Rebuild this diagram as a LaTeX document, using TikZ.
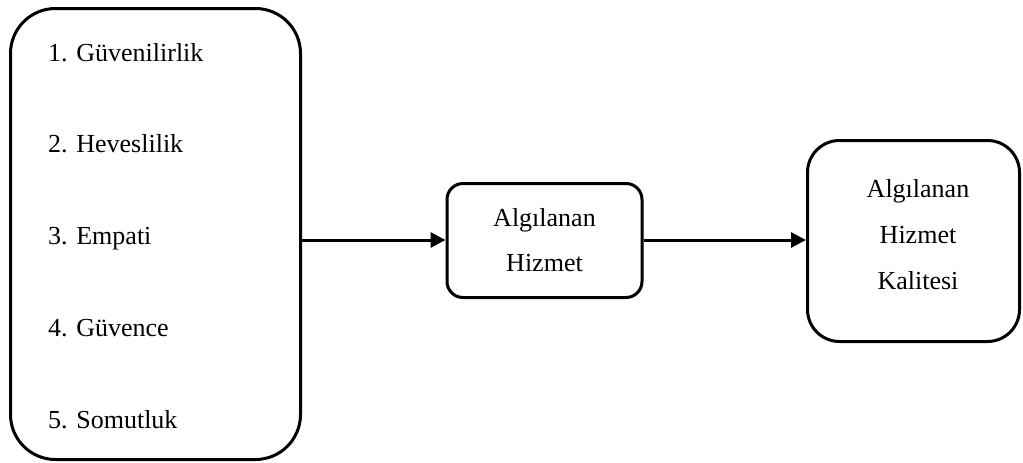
\documentclass[tikz,border=0pt]{standalone}
\usepackage{fontspec}
\setmainfont{Liberation Serif}
\usetikzlibrary{arrows.meta}
\begin{document}
\begin{tikzpicture}[x=1pt,y=-1pt,
  box/.style={draw,line width=3pt,rectangle,inner sep=0pt},
  item/.style={anchor=base west,inner sep=0pt,font=\fontsize{26}{30}\selectfont},
  lbl/.style={anchor=base,inner sep=0pt,font=\fontsize{26}{30}\selectfont},
  flow/.style={line width=3pt,-{Triangle[length=15pt,width=15pt]}}]
\useasboundingbox (0,0) rectangle (1023,463);
% factor list
\node[box,rounded corners=45pt,minimum width=290pt,minimum height=451pt] (dims) at (155.5,234) {};
\node[item] (d1) at (48,61) {1. Güvenilirlik};
\node[item] (d2) at (48,152.75) {2. Heveslilik};
\node[item] (d3) at (48,244.5) {3. Empati};
\node[item] (d4) at (48,336.25) {4. Güvence};
\node[item] (d5) at (48,428) {5. Somutluk};
% perceived service
\node[box,rounded corners=16pt,minimum width=195pt,minimum height=114pt] (ps) at (544.5,240.5) {};
\node[lbl] (ps1) at (544.5,226) {Algılanan};
\node[lbl] (ps2) at (544.5,271) {Hizmet};
% perceived service quality
\node[box,rounded corners=32pt,minimum width=212pt,minimum height=201pt] (psq) at (913.5,241) {};
\node[lbl] (q1) at (918,197) {Algılanan};
\node[lbl] (q2) at (918,243) {Hizmet};
\node[lbl] (q3) at (918,289) {Kalitesi};
% connectors
\draw[flow] (dims.east |- 0,240) -- (ps.west |- 0,240);
\draw[flow] (ps.east |- 0,240) -- (psq.west |- 0,240);
\end{tikzpicture}
\end{document}
